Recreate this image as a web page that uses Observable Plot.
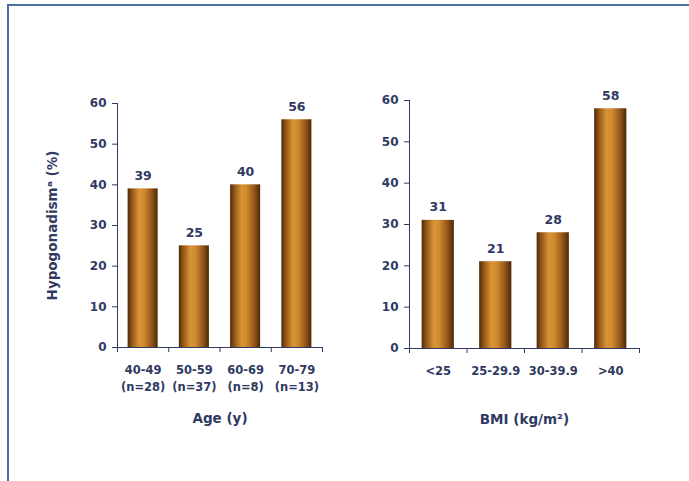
<!DOCTYPE html>
<html><head><meta charset="utf-8">
<script src="https://cdn.jsdelivr.net/npm/d3@7"></script>
<script src="https://cdn.jsdelivr.net/npm/@observablehq/plot@0.6"></script>
<style>
body{margin:0;background:#fff;}
#wrap{position:relative;width:689px;height:481px;overflow:hidden;background:#fff;}
#frame{position:absolute;left:7px;top:4px;width:700px;height:500px;border-top:2px solid #4b70a3;border-left:2px solid #4b70a3;}
#left{position:absolute;left:0;top:0;}
#right{position:absolute;left:345px;top:0;}
</style></head><body>
<div id="wrap"><div id="frame"></div>
<svg width="0" height="0" style="position:absolute"><defs>
<linearGradient id="barGrad" x1="0" x2="1" y1="0" y2="0">
<stop offset="0" stop-color="#4a2806"/>
<stop offset="0.12" stop-color="#8a4f14"/>
<stop offset="0.38" stop-color="#d99436"/>
<stop offset="0.55" stop-color="#cf8a2e"/>
<stop offset="0.8" stop-color="#95561a"/>
<stop offset="1" stop-color="#4a2806"/>
</linearGradient></defs></svg>
<div id="left"></div><div id="right"></div></div>
<script>
const ageGroups = ["40-49\n(n=28)", "50-59\n(n=37)", "60-69\n(n=8)", "70-79\n(n=13)"];
const ageValues = [39, 25, 40, 56];
const bmiGroups = ["<25", "25-29.9", "30-39.9", ">40"];
const bmiValues = [31, 21, 28, 58];
const yTicks = [0, 10, 20, 30, 40, 50, 60];
const yLabel = "Hypogonadismᵃ (%)";
const ageTitle = "Age (y)";
const bmiTitle = "BMI (kg/m²)";

const ink = "#2f3a62";

function makeChart({groups, values, title, ylabel, width, marginLeft, marginRight, marginTop, marginBottom, inset}) {
  const n = groups.length;
  const marks = [
    Plot.rect(values, {x1: (d, i) => i + inset, x2: (d, i) => i + 1 - inset, y1: 0, y2: d => d, fill: "url(#barGrad)"}),
    Plot.text(values, {x: (d, i) => i + 0.5, y: d => d, text: d => String(d), dy: -13, fontSize: 12.5}),
    Plot.text(groups, {x: (d, i) => i + 0.5, y: 0, text: d => d, dy: 14, lineAnchor: "top", lineHeight: 1.5, fontSize: 11.5}),
    Plot.text([title], {frameAnchor: "bottom", text: d => d, dy: 75, fontSize: 13.5})
  ];
  if (ylabel) marks.push(Plot.text([ylabel], {frameAnchor: "left", textAnchor: "middle", text: d => d, rotate: -90, dx: -65, fontSize: 13.5}));
  return Plot.plot({
    width, height: 481, marginLeft, marginRight, marginTop, marginBottom,
    style: {font: "bold 12px 'DejaVu Sans'", color: ink, background: "transparent", overflow: "visible"},
    x: {domain: [0, n], ticks: d3.range(n + 1), tickFormat: () => "", tickSize: 5, line: true, label: null},
    y: {domain: [0, 60], ticks: yTicks, tickSize: 5, tickPadding: 6, line: true, label: null},
    marks
  });
}

document.getElementById("left").append(makeChart({
  groups: ageGroups, values: ageValues, title: ageTitle, ylabel: yLabel,
  width: 345, marginLeft: 117, marginRight: 23, marginTop: 103, marginBottom: 134, inset: 0.207
}));
document.getElementById("right").append(makeChart({
  groups: bmiGroups, values: bmiValues, title: bmiTitle, ylabel: null,
  width: 344, marginLeft: 64, marginRight: 50, marginTop: 100, marginBottom: 133, inset: 0.22
}));
</script>
</body></html>
